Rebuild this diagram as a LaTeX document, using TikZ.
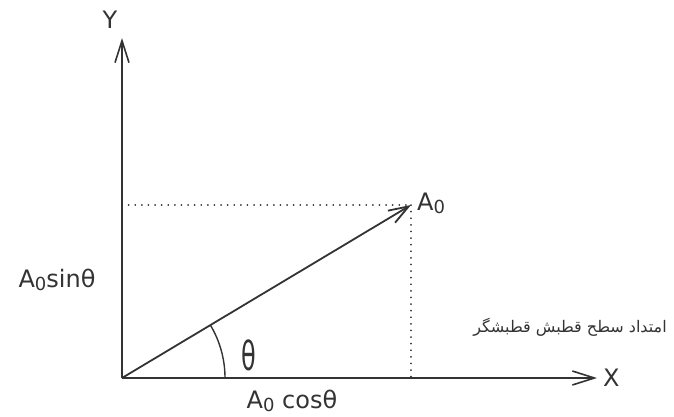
\documentclass[tikz,border=0pt]{standalone}
\usepackage{fontspec}
\setmainfont{DejaVu Sans}
\newfontfamily\persianfont[Script=Arabic]{DejaVu Sans}
\TeXXeTstate=1
\usepackage{xcolor}
\definecolor{cInk}{HTML}{333333}
\usetikzlibrary{positioning,arrows.meta}
\tikzset{
  axis-line/.style={line width=1.6pt,draw=cInk,
    -{Straight Barb[length=22pt,width=14pt,line width=1.6pt]}},
  vec-line/.style={line width=1.8pt,draw=cInk,
    -{Straight Barb[length=20pt,width=14pt,line width=1.8pt]}},
  proj-line/.style={line width=1.8pt,draw=cInk,line cap=round,
    dash pattern=on 0.1pt off 6.5pt},
  angle-arc/.style={line width=1.4pt,draw=cInk},
  lbl/.style={text=cInk,inner sep=1pt,font=\fontsize{24}{28}\selectfont},
  lbl-fa/.style={text=cInk,inner sep=1pt,font=\persianfont\fontsize{16}{19}\selectfont},
}
\newcommand{\Azero}{A\raisebox{-3pt}{\fontsize{18}{20}\selectfont 0}}

\begin{document}
\begin{tikzpicture}[x=1pt,y=-1pt]
  \useasboundingbox (0,0) rectangle (674,417);
  % axes and the vector
  \coordinate (orig) at (122,378);
  \coordinate (ytip) at (122,38);
  \coordinate (xtip) at (597,378);
  \coordinate (vtip) at (411,205);
  \coordinate (yproj) at (122,205);
  \coordinate (xproj) at (411,378);
  \draw[axis-line] (orig) -- (ytip);
  \draw[axis-line] (orig) -- (xtip);
  \draw[vec-line] (orig) -- (vtip);
  \draw[proj-line] (yproj) -- (vtip);
  \draw[proj-line] (vtip) -- (xproj);
  \draw[angle-arc] (orig) ++(103,0) arc[start angle=0,end angle=-31,radius=103];
  % labels
  \node[lbl] (ylbl) at (110,20) {Y};
  \node[lbl,right=5pt of xtip] (xlbl) {X};
  \node[lbl,above right=-10pt and 5pt of vtip] (alab) {\Azero};
  \node[lbl,xscale=0.6,font=\fontsize{40}{44}\selectfont] (theta) at (249,355) {θ};
  \node[lbl] (sinlbl) at (57,280) {\Azero sinθ};
  \node[lbl] (coslbl) at (292,401) {\Azero\ cosθ};
  \node[lbl-fa] (plane) at (570,327) {\beginR امتداد سطح قطبش قطبشگر\endR};
\end{tikzpicture}
\end{document}
